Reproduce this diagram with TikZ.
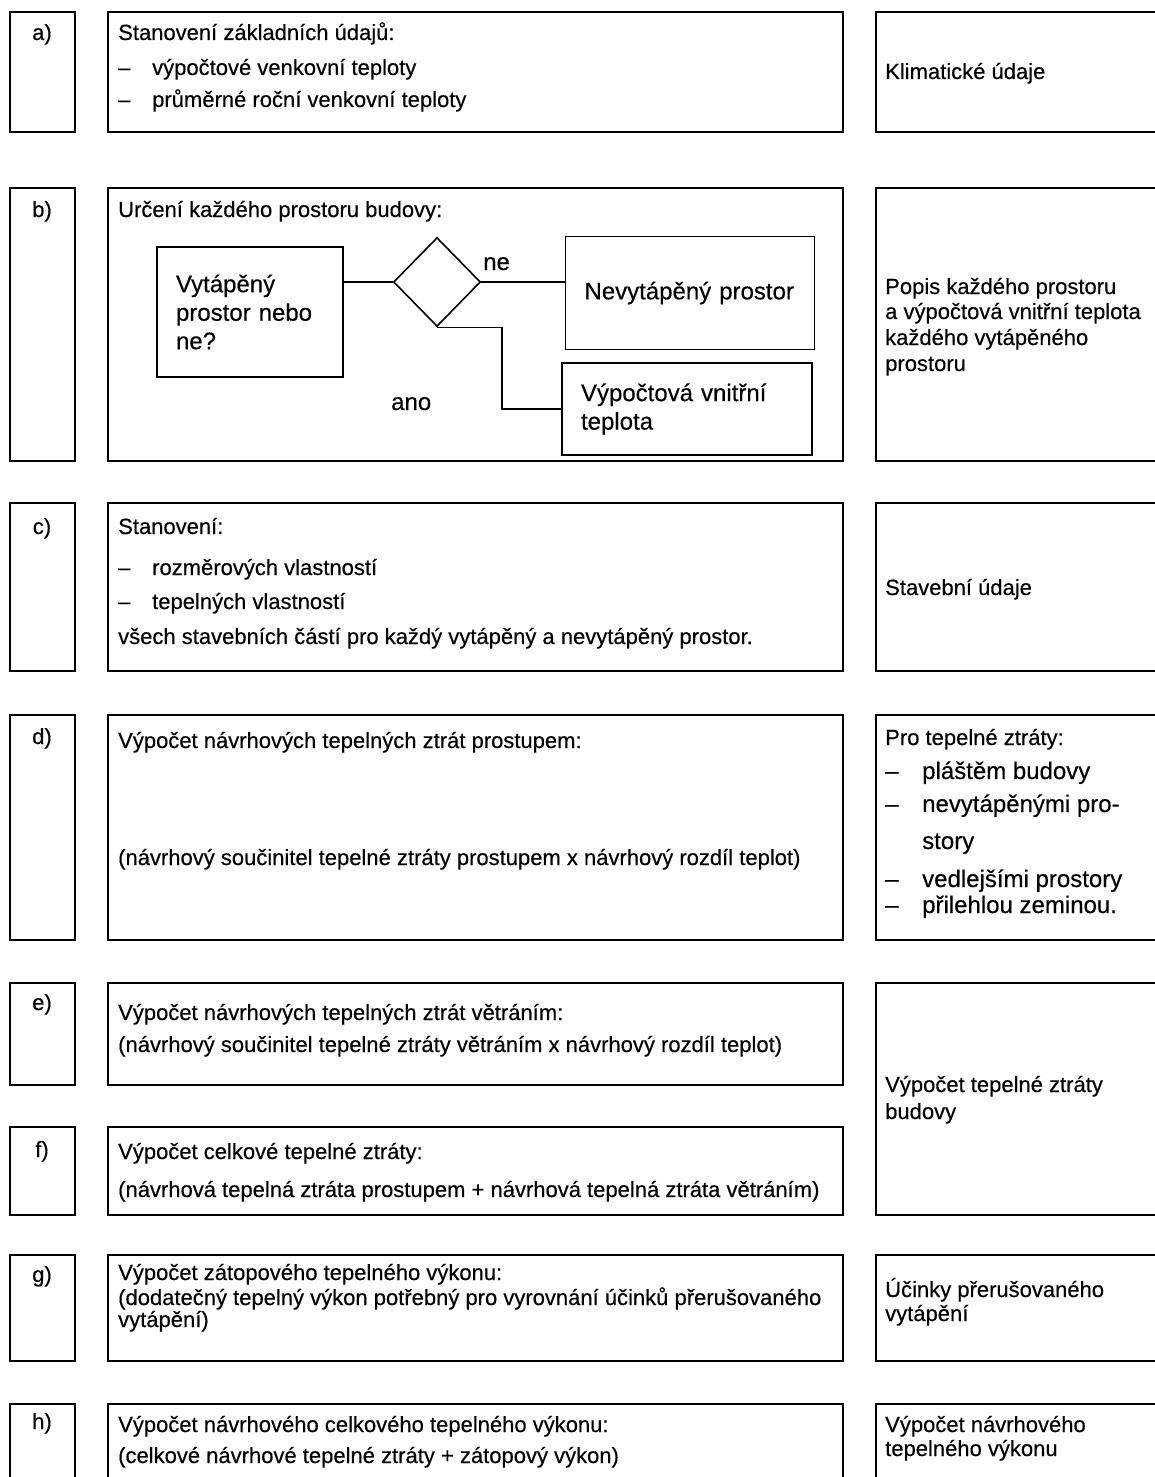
\documentclass[tikz,border=0pt]{standalone}
\usepackage{fontspec}
\setmainfont{Liberation Sans}[FakeBold=0.35]
\usetikzlibrary{shapes.geometric}

\tikzset{
  frame/.style={draw, line width=1.6pt},
  txt/.style={anchor=base west, inner sep=0pt, font=\fontsize{22}{25}\selectfont},
  big/.style={font=\fontsize{24}{28.5}\selectfont},
  lbl/.style={anchor=base, inner sep=0pt, font=\fontsize{22}{25}\selectfont},
  fbox/.style={draw, line width=1.6pt, inner xsep=19pt, align=left, font=\fontsize{24}{28.5}\selectfont},
  wire/.style={line width=1.6pt},
}
\newcommand{\itm}{\makebox[34pt][l]{–}}

\begin{document}
\begin{tikzpicture}[x=1pt,y=-1pt]
			\useasboundingbox (0,0) rectangle (1154,1477);
			% frames of the three columns
			\foreach \t/\b in {12/132,188/461,503/671,715/940,983/1085,1127/1215,1255/1361,1404/1490}
			\draw[frame] (10,\t) rectangle (75,\b);
			\foreach \t/\b in {12/132,188/461,503/671,715/940,983/1085,1127/1215,1255/1361,1404/1490}
			\draw[frame] (108,\t) rectangle (843,\b);
			\foreach \t/\b in {12/132,188/461,503/671,715/940,983/1215,1255/1361,1404/1490}
			\draw[frame] (876,\t) rectangle (1162,\b);
			\foreach \y/\l in {40/a,217/b,534/c,744/d,1010/e,1157/f,1282/g,1429/h}
			\node[lbl] (l-\l) at (42,\y) {\l)};
			% a)
			\node[txt] (a1) at (118,40) {Stanovení základních údajů:};
			\node[txt] (a2) at (118,75) {\itm výpočtové venkovní teploty};
			\node[txt] (a3) at (118,107) {\itm průměrné roční venkovní teploty};
			\node[txt] (ra) at (885,79) {Klimatické údaje};
			% b)
			\node[txt] (b1) at (118,217) {Určení každého prostoru budovy:};
			\node[fbox, minimum width=186pt, minimum height=130pt, text width=148pt] (heat) at (250,312) {Vytápěný\\prostor nebo\\ne?};
			\node[draw, diamond, line width=1.6pt, minimum width=87pt, minimum height=89pt, inner sep=0pt] (dia) at (437,282) {};
			\node[fbox, minimum width=249pt, minimum height=113pt, text width=211pt] (unh) at (690,293) {Nevytápěný prostor};
			\node[fbox, minimum width=250pt, minimum height=92pt, text width=212pt] (vint) at (687,409) {Výpočtová vnitřní\\teplota};
			\draw[wire] (dia.west) -- (dia.west -| heat.east);
			\draw[wire] (dia.east) -- (dia.east -| unh.west);
			\draw[wire] (dia.south) -- ++(65,0) |- (vint.west);
			\node[txt, big] (ne) at (483,270) {ne};
			\node[txt, big] (ano) at (391,410) {ano};
			\node[txt] (rb1) at (885,294) {Popis každého prostoru};
			\node[txt] (rb2) at (885,319) {a výpočtová vnitřní teplota};
			\node[txt] (rb3) at (885,345) {každého vytápěného};
			\node[txt] (rb4) at (885,371) {prostoru};
			% c)
			\node[txt] (c1) at (118,534) {Stanovení:};
			\node[txt] (c2) at (118,575) {\itm rozměrových vlastností};
			\node[txt] (c3) at (118,609) {\itm tepelných vlastností};
			\node[txt] (c4) at (118,644) {všech stavebních částí pro každý vytápěný a nevytápěný prostor.};
			\node[txt] (rc) at (885,595) {Stavební údaje};
			% d)
			\node[txt] (d1) at (118,748) {Výpočet návrhových tepelných ztrát prostupem:};
			\node[txt] (d2) at (118,865) {(návrhový součinitel tepelné ztráty prostupem x návrhový rozdíl teplot)};
			\node[txt] (rd1) at (885,745) {Pro tepelné ztráty:};
			\node[txt, big] (rd2) at (885,779) {\makebox[37pt][l]{–}pláštěm budovy};
			\node[txt, big] (rd3) at (885,812) {\makebox[37pt][l]{–}nevytápěnými pro-};
			\node[txt, big] (rd4) at (922,849) {story};
			\node[txt, big] (rd5) at (885,887) {\makebox[37pt][l]{–}vedlejšími prostory};
			\node[txt, big] (rd6) at (885,913) {\makebox[37pt][l]{–}přilehlou zeminou.};
			% e) and f)
			\node[txt] (e1) at (118,1020) {Výpočet návrhových tepelných ztrát větráním:};
			\node[txt] (e2) at (118,1052) {(návrhový součinitel tepelné ztráty větráním x návrhový rozdíl teplot)};
			\node[txt] (f1) at (118,1159) {Výpočet celkové tepelné ztráty:};
			\node[txt] (f2) at (118,1197) {(návrhová tepelná ztráta prostupem + návrhová tepelná ztráta větráním)};
			\node[txt] (ref1) at (885,1092) {Výpočet tepelné ztráty};
			\node[txt] (ref2) at (885,1119) {budovy};
			% g)
			\node[txt] (g1) at (118,1280) {Výpočet zátopového tepelného výkonu:};
			\node[txt] (g2) at (118,1305) {(dodatečný tepelný výkon potřebný pro vyrovnání účinků přerušovaného};
			\node[txt] (g3) at (118,1327) {vytápění)};
			\node[txt] (rg1) at (885,1297) {Účinky přerušovaného};
			\node[txt] (rg2) at (885,1321) {vytápění};
			% h)
			\node[txt] (h1) at (118,1432) {Výpočet návrhového celkového tepelného výkonu:};
			\node[txt] (h2) at (118,1463) {(celkové návrhové tepelné ztráty + zátopový výkon)};
			\node[txt] (rh1) at (885,1432) {Výpočet návrhového};
			\node[txt] (rh2) at (885,1456) {tepelného výkonu};
\end{tikzpicture}
\end{document}
